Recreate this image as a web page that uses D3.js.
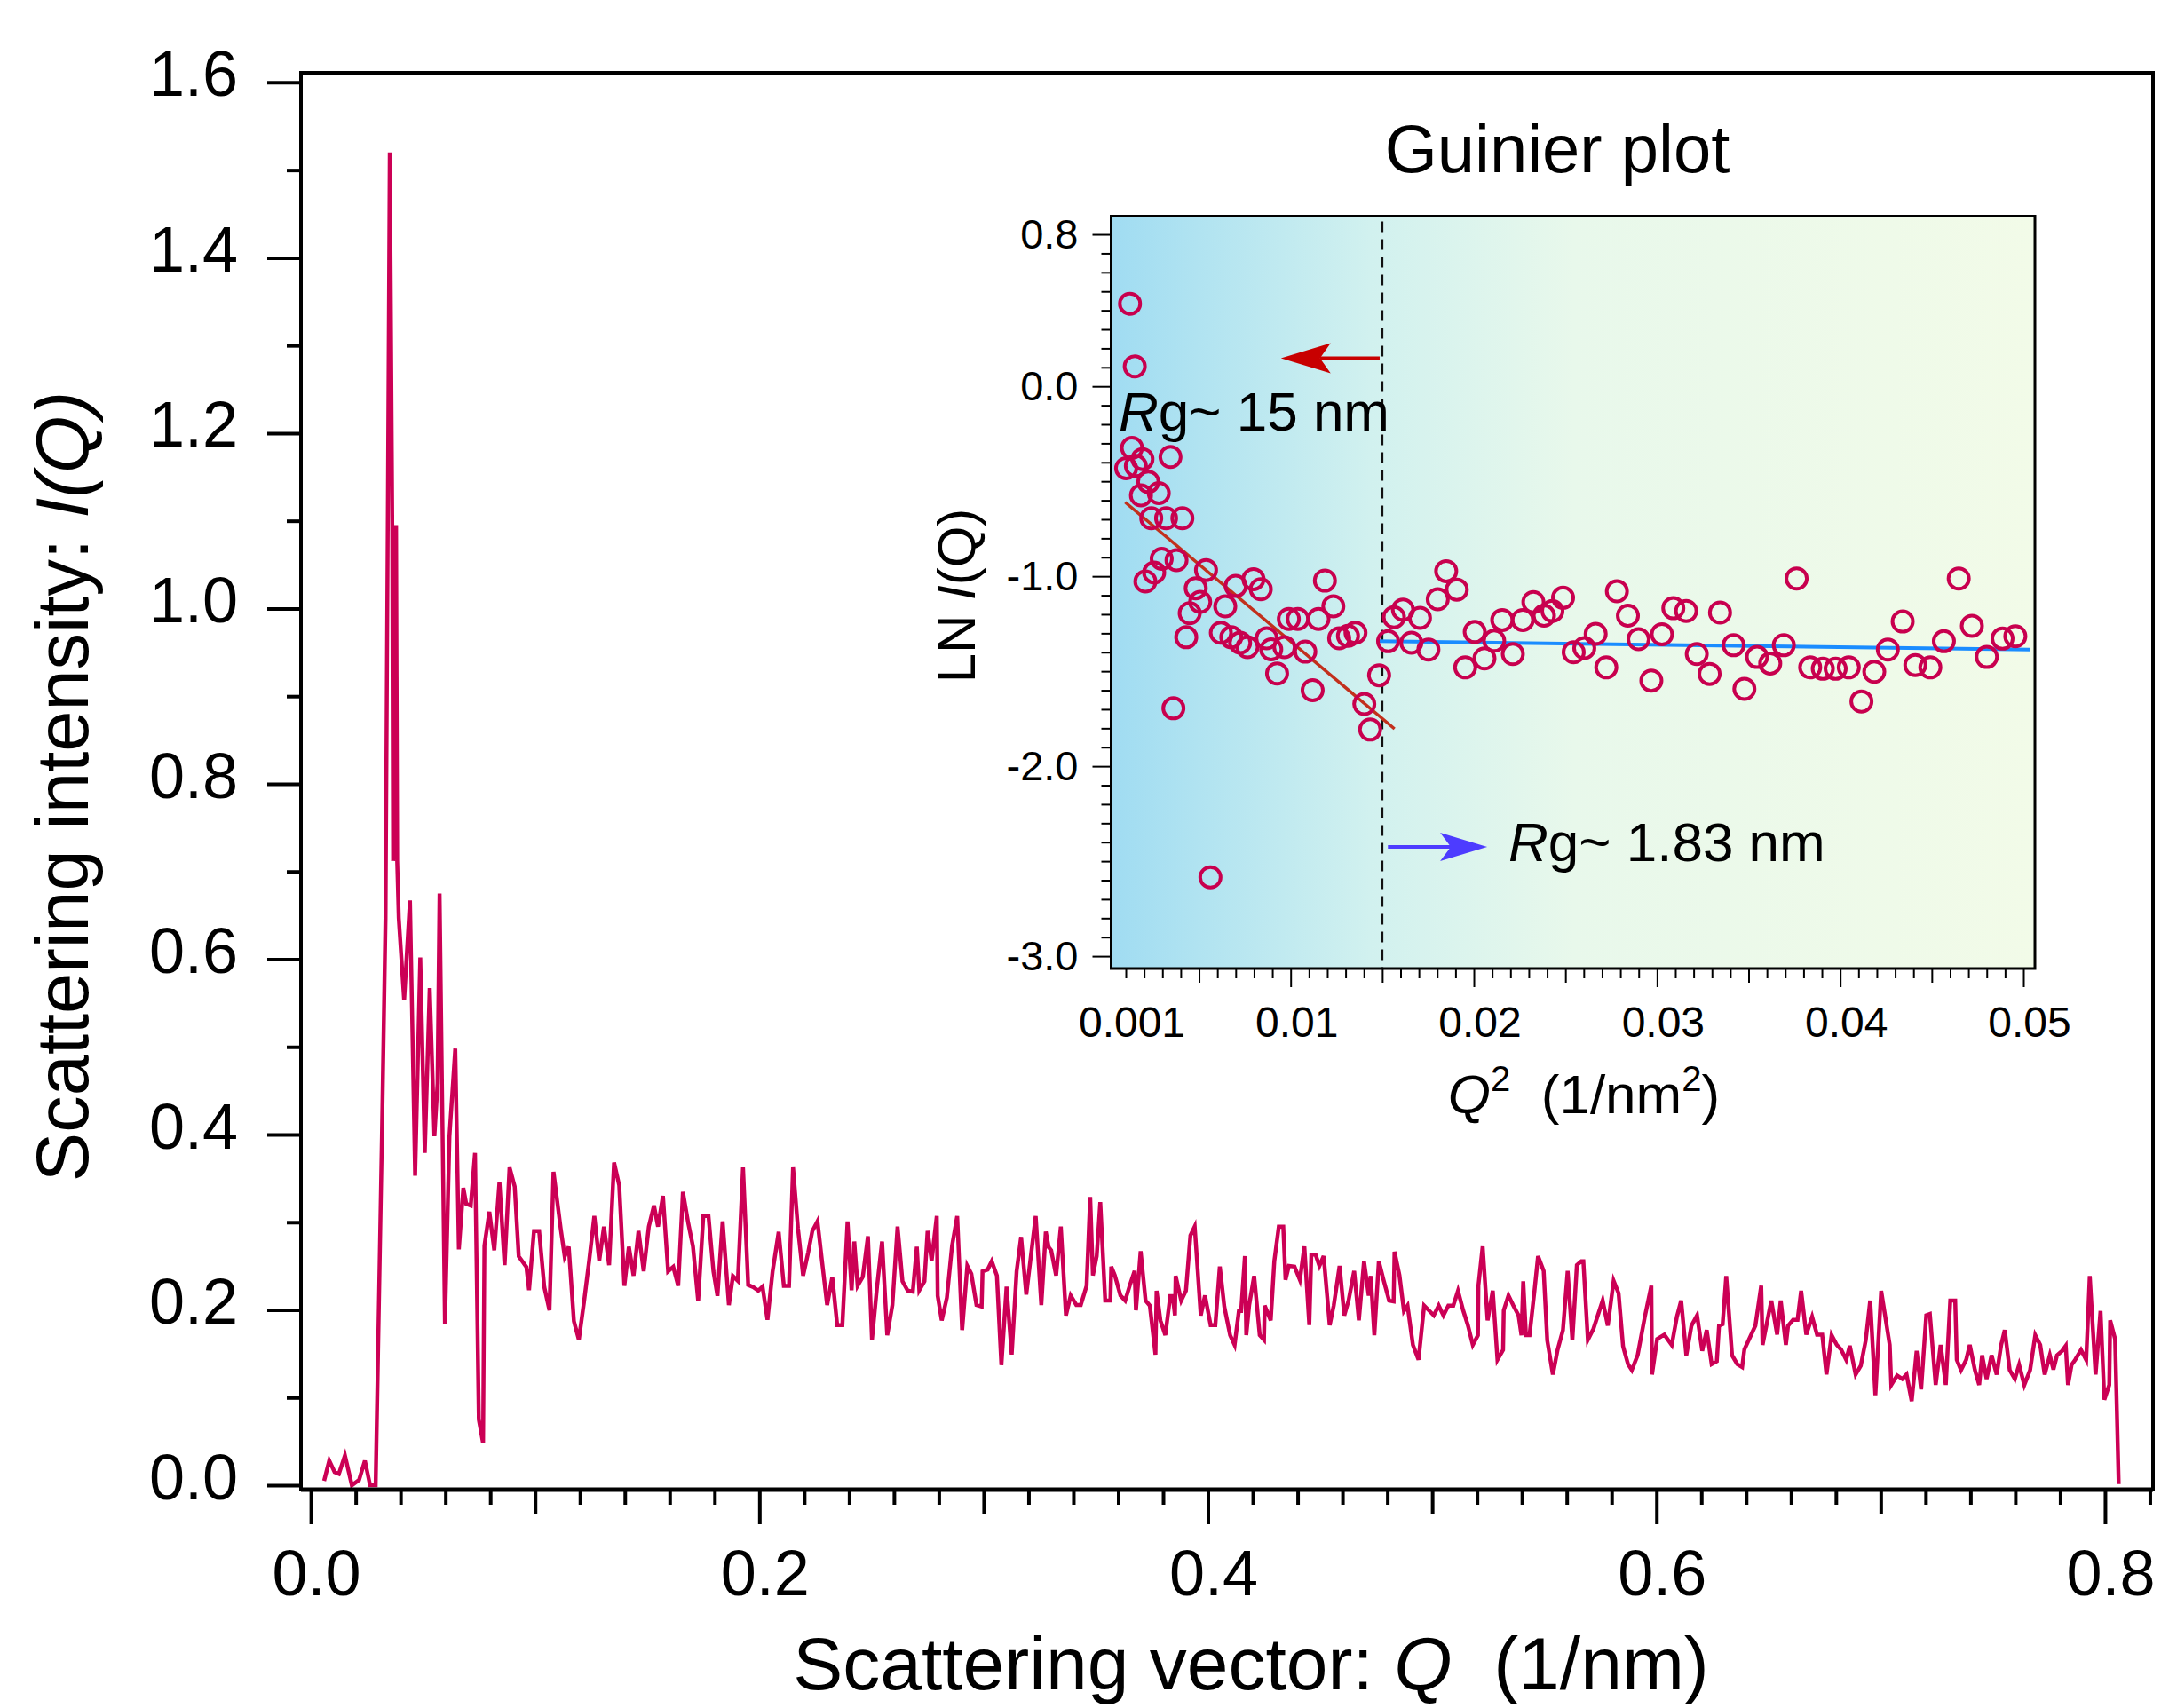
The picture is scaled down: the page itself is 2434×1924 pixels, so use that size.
<!DOCTYPE html>
<html>
<head>
<meta charset="utf-8">
<script src="https://cdn.jsdelivr.net/npm/d3@7"></script>
<style>
  body { margin: 0; background: #fff; }
  svg { font-family: "Liberation Sans", Arial, Helvetica, sans-serif; }
  .pre { white-space: pre; }
</style>
</head>
<body>
<div id="chart"></div>
<script>
// SAXS curve, [Q (1/nm), I(Q)]
const saxsCurve = [
  [0.0059,0.005],[0.0082,0.028],[0.0106,0.015],[0.0125,0.013],[0.0152,0.034],[0.0183,0.0],[0.0215,0.006],[0.0241,0.028],[0.0264,0.0],[0.0289,0.0],
  [0.0317,0.398],[0.0333,0.647],[0.0343,1.095],[0.0352,1.52],[0.0363,1.095],[0.0367,0.712],[0.038,1.095],[0.0385,0.712],[0.0392,0.647],
  [0.0416,0.553],[0.0442,0.667],[0.0465,0.353],[0.0488,0.602],[0.0508,0.379],[0.053,0.567],[0.0551,0.398],[0.0565,0.458],[0.0574,0.675],[0.0598,0.184],
  [0.0618,0.398],[0.0644,0.498],[0.066,0.269],[0.068,0.339],[0.0693,0.321],[0.0713,0.319],[0.0732,0.379],[0.0749,0.075],[0.0768,0.048],[0.0774,0.273],
  [0.0796,0.312],[0.0818,0.268],[0.0841,0.346],[0.0864,0.251],[0.0886,0.3625],[0.0909,0.3406],[0.0927,0.261],[0.0961,0.249],[0.0973,0.2225],[0.0995,0.29],
  [0.1018,0.29],[0.1041,0.226],[0.1064,0.1995],[0.1082,0.3575],[0.1114,0.293],[0.1132,0.261],[0.115,0.272],[0.1173,0.187],[0.1195,0.166],[0.1218,0.209],
  [0.1241,0.256],[0.1264,0.307],[0.1286,0.256],[0.1307,0.295],[0.133,0.251],[0.1352,0.368],[0.1375,0.342],[0.1398,0.2275],[0.1418,0.272],[0.1439,0.239],
  [0.1461,0.29],[0.1484,0.244],[0.1507,0.295],[0.153,0.319],[0.1548,0.295],[0.157,0.33],[0.1593,0.244],[0.1616,0.249],[0.1638,0.2275],[0.1659,0.3345],
  [0.1682,0.30],[0.1704,0.272],[0.1727,0.21],[0.175,0.307],[0.1773,0.307],[0.1795,0.244],[0.1813,0.216],[0.1836,0.301],[0.1864,0.2055],[0.1882,0.2385],
  [0.1904,0.233],[0.1927,0.3625],[0.195,0.2285],[0.1973,0.226],[0.1995,0.222],[0.2014,0.2265],[0.2036,0.1887],[0.2059,0.244],[0.2086,0.289],[0.2109,0.2275],
  [0.2132,0.2275],[0.215,0.3625],[0.2172,0.293],[0.2195,0.239],[0.2218,0.266],[0.2236,0.29],[0.2259,0.301],[0.2279,0.256],[0.2302,0.2055],[0.2325,0.2377],
  [0.2347,0.1826],[0.237,0.1826],[0.2393,0.301],[0.2411,0.2225],[0.2423,0.278],[0.2438,0.2275],[0.2461,0.2377],[0.2484,0.284],[0.2502,0.166],[0.2525,0.2275],
  [0.2547,0.278],[0.257,0.171],[0.2593,0.2055],[0.2616,0.295],[0.2638,0.2326],[0.2661,0.222],[0.2684,0.2208],[0.2702,0.272],[0.2713,0.2225],[0.2736,0.2326],
  [0.275,0.29],[0.2768,0.256],[0.2791,0.307],[0.2795,0.216],[0.2813,0.188],[0.2836,0.214],[0.2859,0.273],[0.2882,0.307],[0.2904,0.177],[0.2927,0.25],
  [0.2945,0.241],[0.2968,0.2055],[0.2991,0.2038],[0.2995,0.244],[0.3018,0.246],[0.3036,0.2555],[0.3059,0.239],[0.3079,0.137],[0.3102,0.2265],[0.3125,0.149],
  [0.3147,0.244],[0.3167,0.2832],[0.319,0.2174],[0.3232,0.307],[0.3257,0.2056],[0.3277,0.2893],[0.329,0.2714],[0.3301,0.268],[0.3323,0.2393],[0.3344,0.295],
  [0.3367,0.1937],[0.3388,0.2164],[0.3413,0.2056],[0.3433,0.2056],[0.3459,0.2275],[0.3475,0.3288],[0.3487,0.2393],[0.3504,0.2613],[0.352,0.323],[0.3542,0.2106],
  [0.3565,0.2106],[0.3569,0.2494],[0.3585,0.2393],[0.361,0.2164],[0.3631,0.2106],[0.3651,0.2275],[0.3673,0.2444],[0.3679,0.1995],[0.37,0.267],[0.3722,0.2106],
  [0.3741,0.2049],[0.3766,0.1489],[0.3771,0.2218],[0.3788,0.188],[0.381,0.1711],[0.3832,0.2157],[0.3843,0.2157],[0.3853,0.1937],[0.3856,0.2387],[0.3881,0.2106],
  [0.3902,0.2218],[0.3922,0.2849],[0.3941,0.295],[0.3968,0.1937],[0.3987,0.2164],[0.4012,0.1826],[0.4033,0.1826],[0.4053,0.2494],[0.4073,0.2038],[0.4099,0.1711],
  [0.4119,0.16],[0.4138,0.1988],[0.4148,0.1988],[0.4165,0.2613],[0.4171,0.1711],[0.4184,0.2056],[0.4206,0.2387],[0.4231,0.1711],[0.425,0.1658],[0.4253,0.2049],
  [0.428,0.188],[0.4296,0.2555],[0.4316,0.295],[0.4336,0.295],[0.4346,0.2342],[0.4361,0.2501],[0.4386,0.2494],[0.441,0.2342],[0.443,0.2724],[0.4452,0.1826],
  [0.4461,0.263],[0.448,0.263],[0.4497,0.2501],[0.4516,0.2613],[0.4543,0.1826],[0.4561,0.2049],[0.4587,0.2501],[0.4608,0.1937],[0.4627,0.2106],[0.4652,0.2444],
  [0.4673,0.188],[0.4696,0.2555],[0.4717,0.2164],[0.4726,0.2387],[0.4742,0.1711],[0.4762,0.2555],[0.4783,0.2342],[0.4808,0.2106],[0.4828,0.2096],[0.4832,0.2663],
  [0.4854,0.2393],[0.4874,0.1988],[0.489,0.2049],[0.4914,0.16],[0.4939,0.1431],[0.4964,0.2049],[0.4985,0.1995],[0.5007,0.1937],[0.5029,0.2049],[0.505,0.1937],
  [0.5072,0.2049],[0.5094,0.2049],[0.5115,0.2218],[0.5138,0.1995],[0.5159,0.1826],[0.5181,0.16],[0.5204,0.1711],[0.5206,0.2275],[0.5225,0.2724],[0.5247,0.188],
  [0.527,0.2218],[0.5291,0.1431],[0.5316,0.1543],[0.5319,0.1995],[0.534,0.2164],[0.5362,0.2049],[0.5385,0.1937],[0.5398,0.1711],[0.5406,0.2326],[0.5418,0.1711],
  [0.5434,0.1711],[0.5456,0.2218],[0.5472,0.2613],[0.5497,0.2444],[0.5513,0.1651],[0.5538,0.1263],[0.5559,0.1543],[0.5583,0.1769],[0.5604,0.2444],[0.5625,0.1658],
  [0.5645,0.2511],[0.5665,0.2555],[0.5674,0.2555],[0.5694,0.1658],[0.5719,0.1785],[0.576,0.2106],[0.5783,0.182],[0.5809,0.2332],[0.5831,0.2191],[0.5851,0.1583],
  [0.5873,0.1381],[0.589,0.1313],[0.5916,0.1482],[0.5948,0.1921],[0.5977,0.2275],[0.598,0.1263],[0.6003,0.1668],[0.6035,0.1718],[0.6068,0.16],[0.6091,0.1921],
  [0.611,0.2106],[0.6133,0.1482],[0.6156,0.182],[0.6181,0.1938],[0.6204,0.1533],[0.6224,0.1769],[0.6246,0.1381],[0.6269,0.1414],[0.6279,0.182],[0.6295,0.1836],
  [0.6311,0.2386],[0.6337,0.1482],[0.636,0.1381],[0.6382,0.1347],[0.6392,0.1549],[0.6441,0.182],[0.6467,0.2275],[0.6473,0.16],[0.6512,0.2106],[0.6538,0.1718],
  [0.6554,0.2106],[0.6577,0.16],[0.6587,0.182],[0.6609,0.1887],[0.6629,0.1887],[0.6645,0.2218],[0.6668,0.1718],[0.6694,0.1921],[0.6716,0.1718],[0.6739,0.1718],
  [0.6758,0.1263],[0.6781,0.1711],[0.6804,0.16],[0.6823,0.1549],[0.6846,0.1431],[0.6862,0.159],[0.6888,0.1263],[0.6911,0.1364],[0.6933,0.1651],[0.6953,0.2106],
  [0.6976,0.1026],[0.7002,0.2218],[0.704,0.16],[0.7047,0.1144],[0.7073,0.1252],[0.7096,0.1212],[0.7115,0.1263],[0.7138,0.0959],[0.716,0.1533],[0.718,0.1094],
  [0.7203,0.1938],[0.7219,0.1954],[0.7245,0.1144],[0.7267,0.16],[0.729,0.1144],[0.731,0.2106],[0.7332,0.2106],[0.7339,0.1431],[0.7358,0.1313],[0.7381,0.1431],
  [0.7397,0.16],[0.742,0.1313],[0.7439,0.1144],[0.7452,0.1482],[0.7472,0.1212],[0.7494,0.1482],[0.7517,0.1263],[0.7537,0.16],[0.7553,0.1769],[0.7575,0.1313],
  [0.7598,0.1212],[0.7617,0.1374],[0.764,0.1144],[0.7666,0.1313],[0.7689,0.1711],[0.7711,0.16],[0.7731,0.1263],[0.7754,0.1482],[0.777,0.132],[0.7786,0.1482],
  [0.7809,0.1533],[0.7825,0.159],[0.7835,0.1144],[0.7851,0.1374],[0.7867,0.1431],[0.7893,0.1543],[0.7916,0.1431],[0.7932,0.2386],[0.7958,0.1263],[0.798,0.1988],
  [0.7997,0.0976],[0.8019,0.1144],[0.8023,0.188],[0.8045,0.1668],[0.8061,0.0013]
];

// Guinier plot points, [Q^2, ln I]
const guinierLow = [
  [0.00123,0.435],[0.00149,0.105],[0.00134,-0.324],[0.00102,-0.431],[0.00191,-0.383],[0.00155,-0.419],[0.00344,-0.372],[0.00223,-0.503],
  [0.0028,-0.562],[0.00183,-0.574],[0.00239,-0.694],[0.0032,-0.694],[0.00409,-0.694],[0.00296,-0.908],[0.00377,-0.915],[0.00255,-0.98],
  [0.00207,-1.027],[0.00538,-0.968],[0.00482,-1.063],[0.00506,-1.135],[0.00449,-1.194],[0.0043,-1.321],[0.00643,-1.158],[0.007,-1.051],
  [0.00797,-1.015],[0.00837,-1.068],[0.00619,-1.297],[0.00676,-1.321],[0.00724,-1.35],[0.00764,-1.373],[0.00869,-1.326],[0.00894,-1.385],
  [0.00966,-1.373],[0.00926,-1.512],[0.0108,-1.397],[0.0112,-1.6],[0.0099,-1.225],[0.01039,-1.225],[0.01152,-1.225],[0.01187,-1.023],
  [0.01233,-1.158],[0.01265,-1.326],[0.01313,-1.314],[0.01354,-1.297],[0.01402,-1.672],[0.01434,-1.807],[0.01483,-1.521],[0.0036,-1.695],
  [0.00562,-2.585]
];
const guinierHigh = [
  [0.01532,-1.342],[0.01564,-1.215],[0.01613,-1.176],[0.01659,-1.35],[0.01706,-1.219],[0.01752,-1.386],[0.01803,-1.121],[0.01849,-0.973],
  [0.01907,-1.07],[0.01953,-1.48],[0.02005,-1.293],[0.02058,-1.433],[0.02111,-1.339],[0.02155,-1.23],[0.02213,-1.409],[0.02267,-1.23],
  [0.02325,-1.136],[0.02383,-1.207],[0.02429,-1.183],[0.02487,-1.113],[0.02545,-1.4],[0.02603,-1.378],[0.02665,-1.303],[0.02723,-1.48],
  [0.02781,-1.079],[0.02841,-1.207],[0.02899,-1.331],[0.02969,-1.549],[0.03027,-1.305],[0.03089,-1.168],[0.03159,-1.183],[0.03217,-1.409],
  [0.03287,-1.514],[0.03344,-1.191],[0.03418,-1.363],[0.03477,-1.593],[0.03546,-1.425],[0.03618,-1.459],[0.03692,-1.363],[0.03762,-1.012],
  [0.03836,-1.48],[0.03905,-1.487],[0.03975,-1.487],[0.04047,-1.48],[0.04116,-1.659],[0.04186,-1.503],[0.0426,-1.386],[0.04341,-1.238],
  [0.0441,-1.468],[0.04492,-1.48],[0.04566,-1.342],[0.04647,-1.012],[0.04719,-1.261],[0.048,-1.425],[0.04886,-1.328],[0.04956,-1.316]
];

// linear fits (end points)
const fitLow = [[0.00097, -0.61], [0.01567, -1.803]];
const fitHigh = [[0.01479, -1.342], [0.05037, -1.386]];
const splitQ2 = 0.015;

// arrows [from Q^2, to Q^2, ln I]
const arrowLow = [0.01486, 0.00947, 0.148];
const arrowHigh = [0.01531, 0.02073, -2.425];

// tick labels
const mainXTicks = [0, 0.2, 0.4, 0.6, 0.8];
const mainXLabels = ['0.0', '0.2', '0.4', '0.6', '0.8'];
const mainYTicks = [0, 0.2, 0.4, 0.6, 0.8, 1.0, 1.2, 1.4, 1.6];
const mainYLabels = ['0.0', '0.2', '0.4', '0.6', '0.8', '1.0', '1.2', '1.4', '1.6'];
const insetXTicks = [0.001, 0.01, 0.02, 0.03, 0.04, 0.05];
const insetXLabels = ['0.001', '0.01', '0.02', '0.03', '0.04', '0.05'];
const insetYTicks = [0.8, 0, -1, -2, -3];
const insetYLabels = ['0.8', '0.0', '-1.0', '-2.0', '-3.0'];

const W = 2434, H = 1924;
const svg = d3.select('#chart').append('svg').attr('width', W).attr('height', H);

// ---------- main plot ----------
const main = { left: 339, right: 2425, top: 82, bottom: 1678 };
const x = d3.scaleLinear().domain([-0.0044, 0.8214]).range([main.left, main.right]);
const y = d3.scaleLinear().domain([-0.005, 1.611]).range([main.bottom, main.top]);

// tick helper: no labels, no domain
function ticks(g, axis, values, size, sw) {
  g.append('g')
    .call(axis.tickValues(values).tickSize(size).tickFormat(''))
    .call(a => a.select('.domain').remove())
    .selectAll('line').attr('stroke', '#000').attr('stroke-width', sw);
}

const near = (v, step) => Math.abs(v / step - Math.round(v / step)) < 1e-6;

svg.append('path').datum(saxsCurve)
  .attr('d', d3.line().x(d => x(d[0])).y(d => y(d[1])))
  .attr('fill', 'none').attr('stroke', '#cc0055').attr('stroke-width', 4.5)
  .attr('stroke-linejoin', 'miter');

const xAxisG = svg.append('g').attr('transform', `translate(0,${main.bottom})`);
const xMinor = d3.range(0, 42).map(i => i * 0.02).filter(v => !near(v, 0.1));
const xMid = [0.1, 0.3, 0.5, 0.7];
ticks(xAxisG, d3.axisBottom(x), xMinor, 17, 4);
ticks(xAxisG, d3.axisBottom(x), xMid, 28, 4);
xAxisG.append('g')
  .call(d3.axisBottom(x).tickValues(mainXTicks).tickSize(39).tickPadding(29)
    .tickFormat((d, i) => mainXLabels[i]))
  .call(a => a.select('.domain').remove())
  .attr('font-size', 72).attr('font-family', null)
  .call(a => a.selectAll('line').attr('stroke-width', 4))
  .call(a => a.selectAll('text').attr('dx', 6).attr('fill', '#000'));

const yAxisG = svg.append('g').attr('transform', `translate(${main.left},0)`);
const yMinor = d3.range(1, 16, 2).map(i => i * 0.1);
ticks(yAxisG, d3.axisLeft(y), yMinor, 16, 4);
yAxisG.append('g')
  .call(d3.axisLeft(y).tickValues(mainYTicks).tickSize(38).tickPadding(33)
    .tickFormat((d, i) => mainYLabels[i]))
  .call(a => a.select('.domain').remove())
  .attr('font-size', 72).attr('font-family', null)
  .call(a => a.selectAll('line').attr('stroke-width', 4))
  .call(a => a.selectAll('text').attr('y', -8).attr('fill', '#000'));

// frame
svg.append('rect')
  .attr('x', main.left).attr('y', main.top)
  .attr('width', main.right - main.left).attr('height', main.bottom - main.top)
  .attr('fill', 'none').attr('stroke', '#000').attr('stroke-width', 4);
svg.append('line')
  .attr('x1', main.left).attr('x2', main.right).attr('y1', main.bottom).attr('y2', main.bottom)
  .attr('stroke', '#000').attr('stroke-width', 5);

// axis titles
const xTitle = svg.append('text').attr('class', 'pre')
  .attr('x', 1409).attr('y', 1903).attr('text-anchor', 'middle').attr('font-size', 84);
xTitle.append('tspan').text('Scattering vector: ');
xTitle.append('tspan').attr('font-style', 'italic').text('Q');
xTitle.append('tspan').text('  (1/nm)');

const yTitle = svg.append('text')
  .attr('transform', 'translate(99,886) rotate(-90)')
  .attr('text-anchor', 'middle').attr('font-size', 83);
yTitle.append('tspan').text('Scattering intensity: ');
yTitle.append('tspan').attr('font-style', 'italic').text('I(Q)');

// ---------- Guinier inset ----------
const ins = { left: 1251.5, right: 2292, top: 243.5, bottom: 1091 };
const xi = d3.scaleLinear().domain([0.0002, 0.05063]).range([ins.left, ins.right]);
const yi = d3.scaleLinear().domain([-3.065, 0.896]).range([ins.bottom, ins.top]);

const grad = svg.append('defs').append('linearGradient').attr('id', 'guinierBg')
  .attr('x1', 0).attr('x2', 1).attr('y1', 0).attr('y2', 0);
[[0, '#a0dcf2'], [0.28, '#d1f1ef'], [0.5, '#e8f8eb'], [1, '#f2fbe8']].forEach(s =>
  grad.append('stop').attr('offset', s[0]).attr('stop-color', s[1]));

svg.append('rect')
  .attr('x', ins.left).attr('y', ins.top)
  .attr('width', ins.right - ins.left).attr('height', ins.bottom - ins.top)
  .attr('fill', 'url(#guinierBg)');

svg.append('line')
  .attr('x1', xi(splitQ2)).attr('x2', xi(splitQ2))
  .attr('y1', ins.top + 6).attr('y2', ins.bottom)
  .attr('stroke', '#111').attr('stroke-width', 2.5).attr('stroke-dasharray', '12,8');

const fitLine = d3.line().x(d => xi(d[0])).y(d => yi(d[1]));
svg.append('path').datum(fitLow).attr('d', fitLine)
  .attr('stroke', '#c2301c').attr('stroke-width', 3.5).attr('fill', 'none');
svg.append('path').datum(fitHigh).attr('d', fitLine)
  .attr('stroke', '#1a8cff').attr('stroke-width', 4).attr('fill', 'none');

svg.append('g').selectAll('circle').data(guinierLow.concat(guinierHigh)).enter()
  .append('circle')
  .attr('cx', d => xi(d[0])).attr('cy', d => yi(d[1])).attr('r', 11.5)
  .attr('fill', 'none').attr('stroke', '#c8004e').attr('stroke-width', 4);

// arrows with notched heads
function arrow(a, color, len, hw) {
  const p0 = xi(a[0]), p1 = xi(a[1]), py = yi(a[2]);
  const dir = Math.sign(p1 - p0), notch = 12;
  svg.append('line')
    .attr('x1', p0).attr('x2', p1 - dir * (len - notch)).attr('y1', py).attr('y2', py)
    .attr('stroke', color).attr('stroke-width', 4);
  svg.append('path')
    .attr('d', `M${p1},${py} L${p1 - dir * len},${py - hw} L${p1 - dir * (len - notch)},${py} L${p1 - dir * len},${py + hw} Z`)
    .attr('fill', color);
}
arrow(arrowLow, '#c80000', 56, 17);
arrow(arrowHigh, '#4d3cff', 53, 16);

// Rg labels
function rgLabel(px, py, rest) {
  const t = svg.append('text').attr('x', px).attr('y', py).attr('font-size', 62);
  t.append('tspan').attr('font-style', 'italic').text('R');
  t.append('tspan').text('g~ ' + rest);
}
rgLabel(1260, 485, '15 nm');
rgLabel(1699, 970, '1.83 nm');

// inset frame
svg.append('rect')
  .attr('x', ins.left).attr('y', ins.top)
  .attr('width', ins.right - ins.left).attr('height', ins.bottom - ins.top)
  .attr('fill', 'none').attr('stroke', '#000').attr('stroke-width', 3);

// inset axes
const xiG = svg.append('g').attr('transform', `translate(0,${ins.bottom + 1})`);
const q2Ticks = d3.range(1, 51).map(i => i * 0.001);
ticks(xiG, d3.axisBottom(xi), q2Ticks.filter(v => !near(v, 0.005)), 10, 2);
ticks(xiG, d3.axisBottom(xi), q2Ticks.filter(v => near(v, 0.005) && !near(v, 0.01)), 15, 2);
ticks(xiG, d3.axisBottom(xi), q2Ticks.filter(v => near(v, 0.01)), 20, 2);

svg.append('g').selectAll('text').data(insetXTicks).enter()
  .append('text')
  .attr('x', d => xi(d) + 7).attr('y', 1168)
  .attr('text-anchor', 'middle').attr('font-size', 48)
  .text((d, i) => insetXLabels[i]);

const yiG = svg.append('g').attr('transform', `translate(${ins.left - 1},0)`);
const lnTicks = d3.range(-30, 9).map(i => i * 0.1).filter(v => !insetYTicks.some(t => Math.abs(t - v) < 1e-6));
ticks(yiG, d3.axisLeft(yi), lnTicks, 10, 2);
yiG.append('g')
  .call(d3.axisLeft(yi).tickValues(insetYTicks).tickSize(20).tickPadding(16)
    .tickFormat((d, i) => insetYLabels[i]))
  .call(a => a.select('.domain').remove())
  .attr('font-size', 47).attr('font-family', null)
  .call(a => a.selectAll('line').attr('stroke-width', 2))
  .call(a => a.selectAll('text').attr('fill', '#000'));

// inset titles
svg.append('text').attr('x', 1754).attr('y', 194)
  .attr('text-anchor', 'middle').attr('font-size', 76).text('Guinier plot');

const xiTitle = svg.append('text').attr('class', 'pre')
  .attr('x', 1784).attr('y', 1254).attr('text-anchor', 'middle').attr('font-size', 62);
xiTitle.append('tspan').attr('font-style', 'italic').text('Q');
xiTitle.append('tspan').attr('font-size', 40).attr('dy', -25).text('2');
xiTitle.append('tspan').attr('dy', 25).text('  (1/nm');
xiTitle.append('tspan').attr('font-size', 40).attr('dy', -25).text('2');
xiTitle.append('tspan').attr('dy', 25).text(')');

const yiTitle = svg.append('text')
  .attr('transform', 'translate(1098,671) rotate(-90)')
  .attr('text-anchor', 'middle').attr('font-size', 60);
yiTitle.append('tspan').text('LN ');
yiTitle.append('tspan').attr('font-style', 'italic').text('I');
yiTitle.append('tspan').text('(Q)');
</script>
</body>
</html>
